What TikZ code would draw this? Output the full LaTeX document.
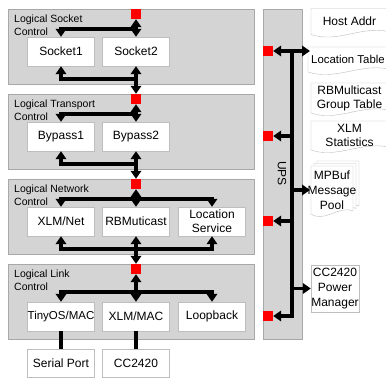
\documentclass[tikz,border=0pt]{standalone}
\usepackage{fontspec}
\setmainfont{Liberation Sans}
\usetikzlibrary{arrows.meta,backgrounds}
\definecolor{panelgray}{RGB}{212,212,212}
\definecolor{paneledge}{RGB}{168,168,168}
\definecolor{boxedge}{RGB}{190,190,190}
\newcommand{\docwave}[3]{%
  \filldraw[docedge] ([shift={(-#2,#3)}]#1.center) -- ([shift={(#2,#3)}]#1.center)
    -- ([shift={(#2,-#3+3pt)}]#1.center)
    .. controls ([shift={(#2/3,-#3+9pt)}]#1.center) and ([shift={(-#2/3,-#3-9pt)}]#1.center)
    .. ([shift={(-#2,-#3)}]#1.center) -- cycle;}
\begin{document}
\begin{tikzpicture}[x=1pt,y=-1pt,
  panel/.style={draw=paneledge,fill=panelgray,inner sep=0pt,minimum width=246pt,minimum height=75pt},
  unit/.style={draw=boxedge,fill=white,inner sep=0pt,minimum width=67pt,minimum height=29pt,align=center,font=\fontsize{12}{14}\selectfont},
  ctrl/.style={anchor=north west,inner sep=0pt,align=left,font=\fontsize{10.5}{13}\selectfont},
  port/.style={fill=red,inner sep=0pt,minimum size=10pt},
  store/.style={inner sep=0pt,align=center,font=\fontsize{12}{14}\selectfont},
  docedge/.style={draw=boxedge,fill=white},
  bus/.style={line width=3.2pt},
  >={Triangle[width=10.5pt,length=8pt]}]
\useasboundingbox (0,0) rectangle (386,379);
\foreach \nm/\ty/\lbl in {lsc/9/{Logical Socket\\Control},ltc/94/{Logical Transport\\Control},lnc/179/{Logical Network\\Control},llc/264/{Logical Link\\Control}} {
  \node[panel] (\nm) at (131,\ty+37.5) {};
  \node[ctrl] (\nm-lbl) at (14,\ty+6) {\lbl};
  \node[port] (\nm-port) at (136,\ty+5) {};
}
\node[unit] (sock1) at (61,51.5) {Socket1};
\node[unit] (sock2) at (136,51.5) {Socket2};
\node[unit] (byp1) at (61,136.5) {Bypass1};
\node[unit] (byp2) at (136,136.5) {Bypass2};
\node[unit] (xlmnet) at (61,221.5) {XLM/Net};
\node[unit] (rbm) at (136,221.5) {RBMuticast};
\node[unit] (locsvc) at (212,221.5) {Location\\Service};
\node[unit,font=\fontsize{11.5}{14}\selectfont] (tinyos) at (61,316.5) {TinyOS/MAC};
\node[unit] (xlmmac) at (136,316.5) {XLM/MAC};
\node[unit] (loopb) at (212,316.5) {Loopback};
\node[unit,minimum height=28pt] (serial) at (61,363) {Serial Port};
\node[unit,minimum height=28pt] (radio) at (136,363) {CC2420};
\coordinate (lsc-in) at (136,29);
\coordinate (lsc-out) at (136,79);
\coordinate (ltc-in) at (136,114);
\coordinate (ltc-out) at (136,164);
\coordinate (lnc-in) at (136,199);
\coordinate (lnc-out) at (136,249);
\coordinate (llc-in) at (136,292);
\draw[bus,<->] (lsc-port) -- (sock2);
\draw[bus,->] (lsc-in) -| (sock1);
\draw[bus,<->] (sock2) -- (ltc-port);
\draw[bus,->] (lsc-out) -| (sock1);
\draw[bus,<->] (ltc-port) -- (byp2);
\draw[bus,->] (ltc-in) -| (byp1);
\draw[bus,<->] (byp2) -- (lnc-port);
\draw[bus,->] (ltc-out) -| (byp1);
\draw[bus,<->] (lnc-port) -- (rbm);
\draw[bus,->] (lnc-in) -| (xlmnet);
\draw[bus,->] (lnc-in) -| (locsvc);
\draw[bus,<->] (rbm) -- (llc-port);
\draw[bus,->] (lnc-out) -| (xlmnet);
\draw[bus,->] (lnc-out) -| (locsvc);
\draw[bus,<->] (llc-port) -- (xlmmac);
\draw[bus,->] (llc-in) -| (tinyos);
\draw[bus,->] (llc-in) -| (loopb);
\draw[bus] (tinyos) -- (serial);
\draw[bus] (xlmmac) -- (radio);
\node[panel,minimum width=39pt,minimum height=330pt] (ups) at (282.5,174) {};
\node[rotate=-90,inner sep=0pt,font=\fontsize{12}{14}\selectfont] (ups-lbl) at (282,173.5) {UPS};
\foreach \k/\y in {1/51,2/136,3/221,4/316}
  \node[port] (ups\k) at (268,\y) {};
\node[store] (host) at (349.5,21.5) {Host Addr};
\node[store,font=\fontsize{11.4}{14}\selectfont] (loctab) at (348,59.5) {Location Table};
\node[store] (grptab) at (349.5,98) {RBMulticast\\Group Table};
\node[store] (xlmstat) at (349.5,135.5) {XLM\\Statistics};
\coordinate (mpbuf1) at (332,190);
\coordinate (mpbuf2) at (335,187.5);
\coordinate (mpbuf3) at (338,185);
\node[store,font=\fontsize{12}{15}\selectfont] (mpbuf) at (mpbuf1) {MPBuf\\Message\\Pool};
\coordinate (mpbuf-in) at (310,190);
\node[unit,minimum width=48pt,minimum height=47pt,font=\fontsize{12}{15}\selectfont] (pwrmgr) at (335,288.5) {CC2420\\Power\\Manager};
\coordinate (spine) at (292,51);
\draw[bus,<->] (ups1) -- (ups1 -| mpbuf-in);
\draw[bus,->] (spine) |- (ups4);
\draw[bus,->] (spine |- ups2) -- (ups2);
\draw[bus,->] (spine |- ups3) -- (ups3);
\draw[bus,->] (spine |- mpbuf-in) -- (mpbuf-in);
\draw[bus,->] (spine |- pwrmgr) -- (pwrmgr);
\begin{scope}[on background layer]
\fill[white] (0,0) rectangle (386,379);
\docwave{host}{38.5pt}{13pt}
\docwave{loctab}{40pt}{12.5pt}
\docwave{grptab}{38.5pt}{15pt}
\docwave{xlmstat}{38.5pt}{14.5pt}
\docwave{mpbuf3}{21pt}{24pt}
\docwave{mpbuf2}{21pt}{24pt}
\docwave{mpbuf1}{21pt}{24pt}
\end{scope}
\end{tikzpicture}
\end{document}
